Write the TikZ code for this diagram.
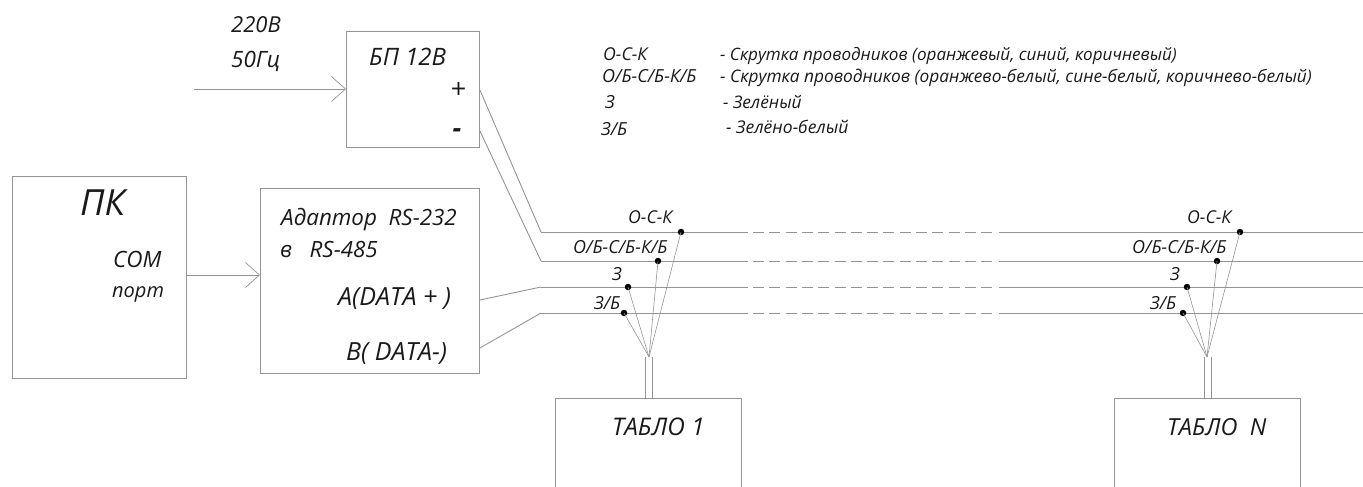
\documentclass[tikz,border=0pt]{standalone}
\usepackage{fontspec}
\setmainfont{Open Sans}
\usetikzlibrary{arrows.meta}
\definecolor{wire}{gray}{0.58}
\tikzset{
  x=1pt,y=-1pt,
  wireline/.style={draw=wire,line width=0.9pt},
  boxn/.style={draw=wire,line width=0.9pt,rectangle,inner sep=0pt,anchor=north west},
  lab/.style={inner sep=0pt,font=\itshape\fontsize{#1}{#1}\selectfont,text=black!90},
  lab/.default=15,
  feed/.style={wireline,-{Straight Barb[length=14pt,width=25pt,line width=0.7pt]}},
  dot/.style={circle,fill=black,inner sep=0pt,minimum size=6.5pt},
  dashline/.style={wireline,dash pattern=on 11pt off 5.3pt},
}
\begin{document}
\begin{tikzpicture}
\useasboundingbox (0,0) rectangle (1363,487);
% boxes
\node[boxn,minimum width=174pt,minimum height=202pt] (pc) at (12,176) {};
\node[boxn,minimum width=219pt,minimum height=185pt] (adapter) at (260,188) {};
\node[boxn,minimum width=133pt,minimum height=116pt] (psu) at (346,31) {};
\path[draw=wire,line width=0.9pt] (555,487) -- (555,398) -- (741,398) -- (741,487);
\path[draw=wire,line width=0.9pt] (1114,487) -- (1114,398) -- (1300,398) -- (1300,487);
\coordinate (t1a) at (645,398); \coordinate (t1b) at (652,398);
\coordinate (tna) at (1204,398); \coordinate (tnb) at (1211,398);
% box texts
\node[lab=36,anchor=base west] (tpc) at (80,215) {ПК};
\node[lab=22.5,anchor=base west] (tcom) at (113,267) {COM};
\node[lab=20,anchor=base west] (tport) at (112,297) {порт};
\node[lab=22.4,anchor=base west] (tad1) at (281,225) {Адаптор\ \ RS-232};
\node[lab=22.4,anchor=base west] (tad2) at (280,257) {в\ \ \ RS-485};
\node[lab=25,anchor=base west] (tda) at (338,305) {A(DATA +\ )};
\node[lab=25,anchor=base west] (tdb) at (346,360) {B(\ DATA-)};
\node[lab=24,anchor=base west] (tpsu) at (369,66) {БП 12В};
\node[lab=27,anchor=base] (tplus) at (458,99) {+};
\node[lab=27,anchor=base] (tminus) at (457,137) {\bfseries -};
\node[lab=22,anchor=base west] (tv) at (231,33) {220В};
\node[lab=22.5,anchor=base west] (tf) at (231,67) {50Гц};
\node[lab=24.3,anchor=base west] (tt1) at (612,435) {ТАБЛО 1};
\node[lab=23.5,anchor=base west] (ttn) at (1167,435) {ТАБЛО\ \ N};
% feeds
\coordinate (acin) at (194,89);
\draw[feed] (acin) -- (psu.west |- acin);
\coordinate (compt) at (186,275);
\draw[feed] (compt) -- (adapter.west |- compt);
% bus wires
\foreach \nm/\y in {a/232,b/261,c/287,d/313}{
  \coordinate (\nm0) at (541,\y);
  \coordinate (\nm1) at (748,\y);
  \coordinate (\nm2) at (999,\y);
  \coordinate (\nm3) at (1363,\y);
  \draw[wireline] (\nm0) -- (\nm1);
  \draw[dashline] (753,\y) -- (994,\y);
  \draw[wireline] (\nm2) -- (\nm3);
}
\draw[wireline] (psu.east |- 0,90) -- (a0);
\draw[wireline] (psu.east |- 0,131) -- (b0);
\draw[wireline] (adapter.east |- 0,300) -- (c0);
\draw[wireline] (adapter.east |- 0,348) -- (d0);
% taps 1
\coordinate (j1) at (649,357);
\node[dot] (d1a) at (681,232) {};
\node[dot] (d1b) at (658,261) {};
\node[dot] (d1c) at (628,287) {};
\node[dot] (d1d) at (624,313) {};
\foreach \n in {d1a,d1b,d1c,d1d}{\draw[wireline,line width=0.6pt] (\n.center) -- (j1);}
\draw[wireline] (t1a) -- (t1a |- j1);
\draw[wireline] (t1b |- j1) -- (t1b);
% taps N
\coordinate (jn) at (1207,357);
\node[dot] (dna) at (1240,232) {};
\node[dot] (dnb) at (1217,261) {};
\node[dot] (dnc) at (1187,287) {};
\node[dot] (dnd) at (1183,313) {};
\foreach \n in {dna,dnb,dnc,dnd}{\draw[wireline,line width=0.6pt] (\n.center) -- (jn);}
\draw[wireline] (tna) -- (tna |- jn);
\draw[wireline] (tnb |- jn) -- (tnb);
% wire labels
\node[lab=17.7,anchor=base west] at (628,223) {О-С-К};
\node[lab=18,anchor=base west] at (573,253) {О/Б-С/Б-К/Б};
\node[lab=18,anchor=base west] at (612,280) {З};
\node[lab=18,anchor=base west] at (594,309) {З/Б};
\node[lab=17.7,anchor=base west] at (1187,223) {О-С-К};
\node[lab=18,anchor=base west] at (1132,253) {О/Б-С/Б-К/Б};
\node[lab=18,anchor=base west] at (1170,280) {З};
\node[lab=18,anchor=base west] at (1150,309) {З/Б};
% legend
\node[lab=17.7,anchor=base west] at (603,61) {О-С-К};
\node[lab=18,anchor=base west] at (602,82) {О/Б-С/Б-К/Б};
\node[lab=18,anchor=base west] at (605,108) {З};
\node[lab=18,anchor=base west] at (601,135) {З/Б};
\node[lab=17.07,anchor=base west] at (720,61) {- Скрутка проводников (оранжевый, синий, коричневый)};
\node[lab=17.3,anchor=base west] at (720,82) {- Скрутка проводников (оранжево-белый, сине-белый, коричнево-белый)};
\node[lab=17.3,anchor=base west] at (723,108) {- Зелёный};
\node[lab=17.5,anchor=base west] at (726,133) {- Зелёно-белый};
\end{tikzpicture}
\end{document}
